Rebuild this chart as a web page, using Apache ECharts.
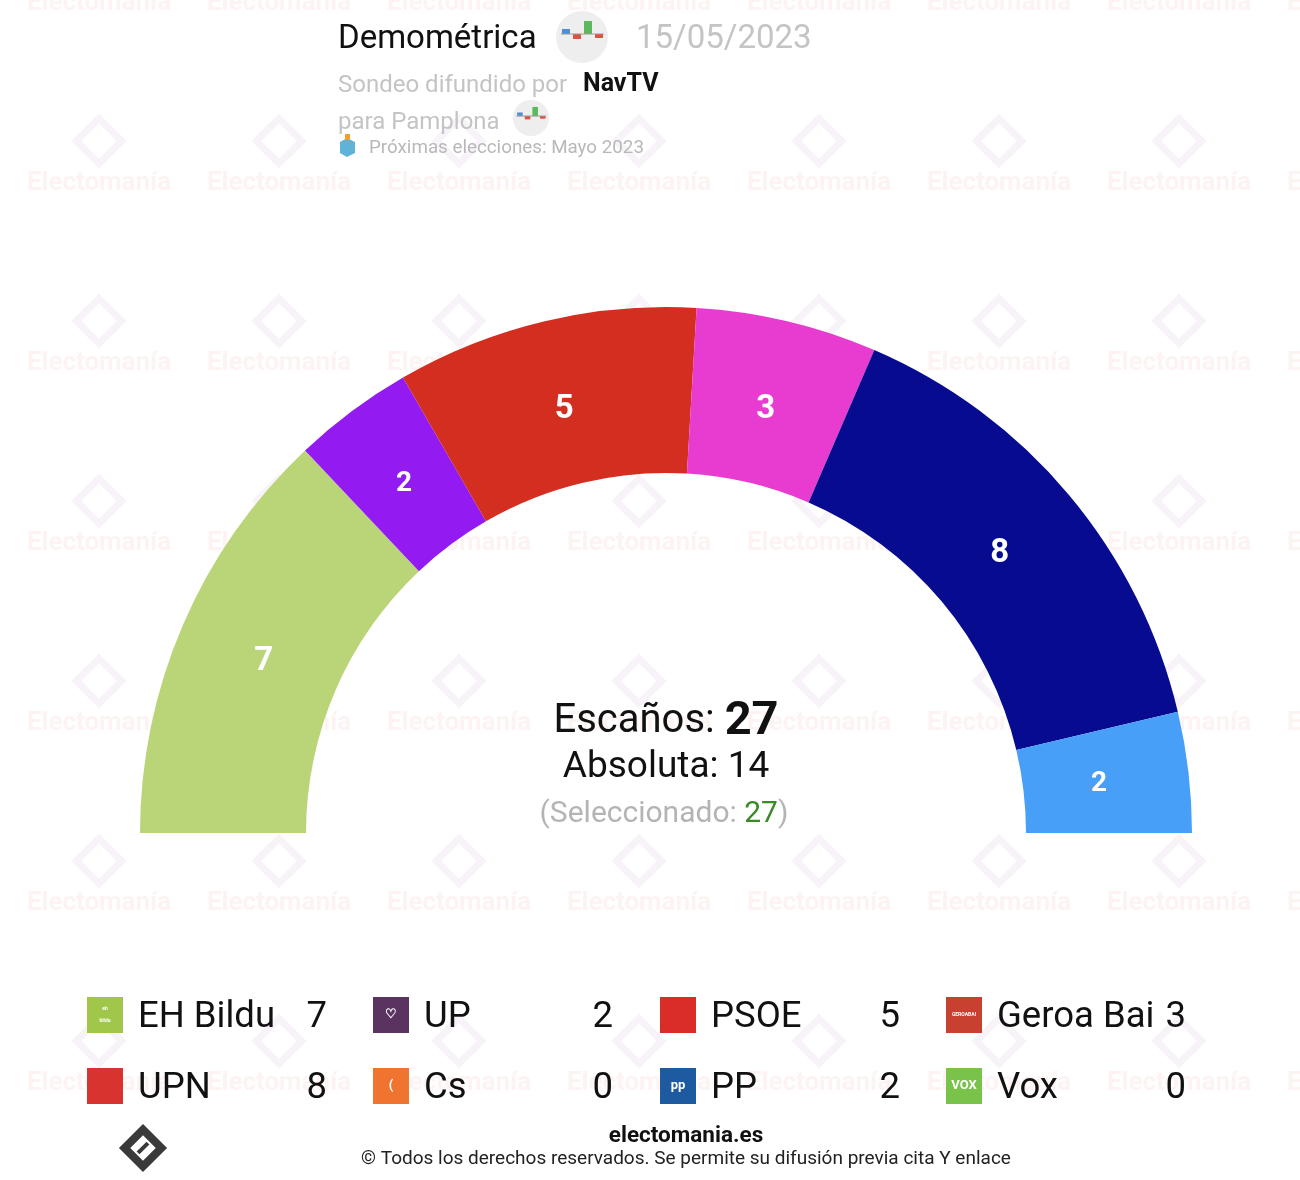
<!DOCTYPE html>
<html>
<head>
<meta charset="utf-8">
<script src="https://cdn.jsdelivr.net/npm/echarts@6/dist/echarts.min.js"></script>
<style>
html,body{margin:0;padding:0;background:#fff;}
#main{width:1300px;height:1180px;}
</style>
</head>
<body>
<div id="main"></div>
<script>
const parties = ['EH Bildu', 'UP', 'PSOE', 'Geroa Bai', 'UPN', 'Cs', 'PP', 'Vox'];
const seats = [7, 2, 5, 3, 8, 0, 2, 0];
const arcColors = ['#b9d577', '#931bf2', '#d42e20', '#e83bd0', '#070b8f', '#f07a36', '#479ff8', '#79c34a'];
const logoColors = ['#a0c64a', '#5a3361', '#da2d27', '#c8402f', '#d8332e', '#ef7430', '#1d5aa0', '#79c34a'];
const logoTexts = ['eh\nbildu', '♡', '', 'GEROABAI', '', '(', 'pp', 'VOX'];
const totalSeats = 27;
const majority = 14;
const selected = 27;
const pollster = 'Demométrica';
const pollDate = '15/05/2023';
const media = 'NavTV';
const place = 'Pamplona';
const nextElection = 'Próximas elecciones: Mayo 2023';

const chart = echarts.init(document.getElementById('main'), null, {renderer: 'canvas'});
const FONT = 'Roboto';

const pieData = [];
const labelData = [];
parties.forEach((p, i) => {
  if (seats[i] > 0) {
    pieData.push({name: p, value: seats[i], itemStyle: {color: arcColors[i]}});
    labelData.push({name: p, value: seats[i], label: {fontSize: seats[i] <= 2 ? 28 : 33}});
  }
});

const graphics = [];
// watermarks
for (let row = 0; row < 7; row++) {
  for (let col = 0; col < 8; col++) {
    const cx = 99 + col * 180;
    const cy = 3 + row * 180;
    graphics.push({type: 'text', x: cx, y: cy, z: -10, silent: true,
      style: {text: 'Electomanía', font: 'bold 26px ' + FONT, fill: 'rgba(235,120,110,0.09)', textAlign: 'center', textVerticalAlign: 'middle'}});
    graphics.push({type: 'rect', x: cx, y: cy - 42, rotation: Math.PI / 4, z: -10, silent: true,
      shape: {x: -16, y: -16, width: 32, height: 32},
      style: {fill: 'none', stroke: 'rgba(170,120,190,0.09)', lineWidth: 7}});
  }
}
// header
graphics.push({type: 'text', left: 338, top: 23, style: {text: pollster, font: '33px ' + FONT, fill: '#111'}});
function pollIcon(cx, cy, r) {
  const s = r / 26;
  graphics.push({type: 'circle', shape: {cx: cx, cy: cy, r: r}, style: {fill: '#eeeeee'}});
  graphics.push({type: 'rect', shape: {x: cx - 20 * s, y: cy - 8 * s, width: 8 * s, height: 5 * s}, style: {fill: '#4a8fd8'}});
  graphics.push({type: 'rect', shape: {x: cx - 9 * s, y: cy - 3 * s, width: 8 * s, height: 5 * s}, style: {fill: '#e05040'}});
  graphics.push({type: 'rect', shape: {x: cx + 2 * s, y: cy - 16 * s, width: 8 * s, height: 13 * s}, style: {fill: '#5cb85c'}});
  graphics.push({type: 'rect', shape: {x: cx + 13 * s, y: cy - 3 * s, width: 8 * s, height: 4 * s}, style: {fill: '#e05040'}});
  graphics.push({type: 'rect', shape: {x: cx - 21 * s, y: cy - 3.5 * s, width: 43 * s, height: 1}, style: {fill: '#999'}});
}
pollIcon(582, 37, 26);
graphics.push({type: 'text', left: 636, top: 23, style: {text: pollDate, font: '33px ' + FONT, fill: '#c4c4c4'}});
graphics.push({type: 'text', left: 338, top: 74, style: {text: 'Sondeo difundido por', font: '24px ' + FONT, fill: '#c4c4c4'}});
graphics.push({type: 'text', left: 583, top: 72, style: {text: media, font: 'bold 25px ' + FONT, fill: '#111'}});
graphics.push({type: 'text', left: 338, top: 111, style: {text: 'para ' + place, font: '24px ' + FONT, fill: '#c4c4c4'}});
pollIcon(531, 118, 18);
graphics.push({type: 'polygon', shape: {points: [[340, 142], [347, 138], [355, 142], [355, 153], [347, 157], [340, 153]]}, style: {fill: '#5fb3d9'}});
graphics.push({type: 'rect', shape: {x: 345, y: 134, width: 5, height: 6}, style: {fill: '#f0a030'}});
graphics.push({type: 'text', left: 369, top: 139, style: {text: nextElection, font: '18.8px ' + FONT, fill: '#b8b8b8'}});

// center text
graphics.push({type: 'text', x: 666, y: 722, style: {
  text: '{a|Escaños: }{b|' + totalSeats + '}', textAlign: 'center', textVerticalAlign: 'middle',
  rich: {a: {font: '40px ' + FONT, fill: '#111'}, b: {font: 'bold 47px ' + FONT, fill: '#111'}}}});
graphics.push({type: 'text', x: 666, y: 768, style: {text: 'Absoluta: ' + majority, font: '37px ' + FONT, fill: '#111', textAlign: 'center', textVerticalAlign: 'middle'}});
graphics.push({type: 'text', x: 664, y: 814, style: {
  text: '{a|(Seleccionado: }{b|' + selected + '}{a|)}', textAlign: 'center', textVerticalAlign: 'middle',
  rich: {a: {font: '30px ' + FONT, fill: '#b4b4b4'}, b: {font: '30px ' + FONT, fill: '#3a8a28'}}}});

// legend
const colX = [87, 373, 660, 946];
const rowY = [1015, 1086];
parties.forEach((p, i) => {
  const c = i % 4, r = Math.floor(i / 4);
  const x = colX[c], y = rowY[r];
  graphics.push({type: 'rect', shape: {x: x, y: y - 18, width: 36, height: 36}, style: {fill: logoColors[i]}});
  if (logoTexts[i]) {
    graphics.push({type: 'text', x: x + 18, y: y, style: {text: logoTexts[i], font: (logoTexts[i].length > 5 ? 'bold 5px ' : 'bold 13px ') + FONT,
      fill: '#fff', textAlign: 'center', textVerticalAlign: 'middle', lineHeight: 12}});
  }
  graphics.push({type: 'text', x: x + 51, y: y + 3, style: {text: p, font: '36.5px ' + FONT, fill: '#111', textVerticalAlign: 'middle'}});
  graphics.push({type: 'text', x: x + 240, y: y + 3, style: {text: String(seats[i]), font: '36.5px ' + FONT, fill: '#111', textAlign: 'right', textVerticalAlign: 'middle'}});
});

// footer
graphics.push({type: 'text', x: 686, y: 1136, style: {text: 'electomania.es', font: 'bold 22.5px ' + FONT, fill: '#111', textAlign: 'center', textVerticalAlign: 'middle'}});
graphics.push({type: 'text', x: 686, y: 1159, style: {text: '© Todos los derechos reservados. Se permite su difusión previa cita Y enlace', font: '19px ' + FONT, fill: '#222', textAlign: 'center', textVerticalAlign: 'middle'}});
graphics.push({type: 'rect', x: 143, y: 1148, rotation: Math.PI / 4, shape: {x: -13, y: -13, width: 26, height: 26}, style: {fill: 'none', stroke: '#3a3a3a', lineWidth: 8}});
graphics.push({type: 'rect', x: 143, y: 1148, rotation: Math.PI / 4, shape: {x: -7, y: -2, width: 14, height: 4}, style: {fill: '#3a3a3a'}});

chart.setOption({
  animation: false,
  backgroundColor: '#fff',
  graphic: graphics,
  series: [{
    type: 'pie',
    center: [666, 833],
    radius: [360, 526],
    startAngle: 180,
    endAngle: 0,
    clockwise: true,
    silent: true,
    label: {show: false},
    labelLine: {show: false},
    itemStyle: {borderWidth: 0},
    emphasis: {disabled: true},
    data: pieData
  }, {
    type: 'pie',
    center: [665, 835],
    radius: [348, 520],
    startAngle: 180,
    endAngle: 0,
    clockwise: true,
    silent: true,
    z: 5,
    avoidLabelOverlap: false,
    itemStyle: {color: 'rgba(0,0,0,0)', borderWidth: 0},
    label: {show: true, position: 'inside', formatter: '{c}', color: '#fff', fontWeight: 'bold', fontFamily: FONT},
    labelLine: {show: false},
    emphasis: {disabled: true},
    data: labelData
  }]
});
</script>
</body>
</html>
